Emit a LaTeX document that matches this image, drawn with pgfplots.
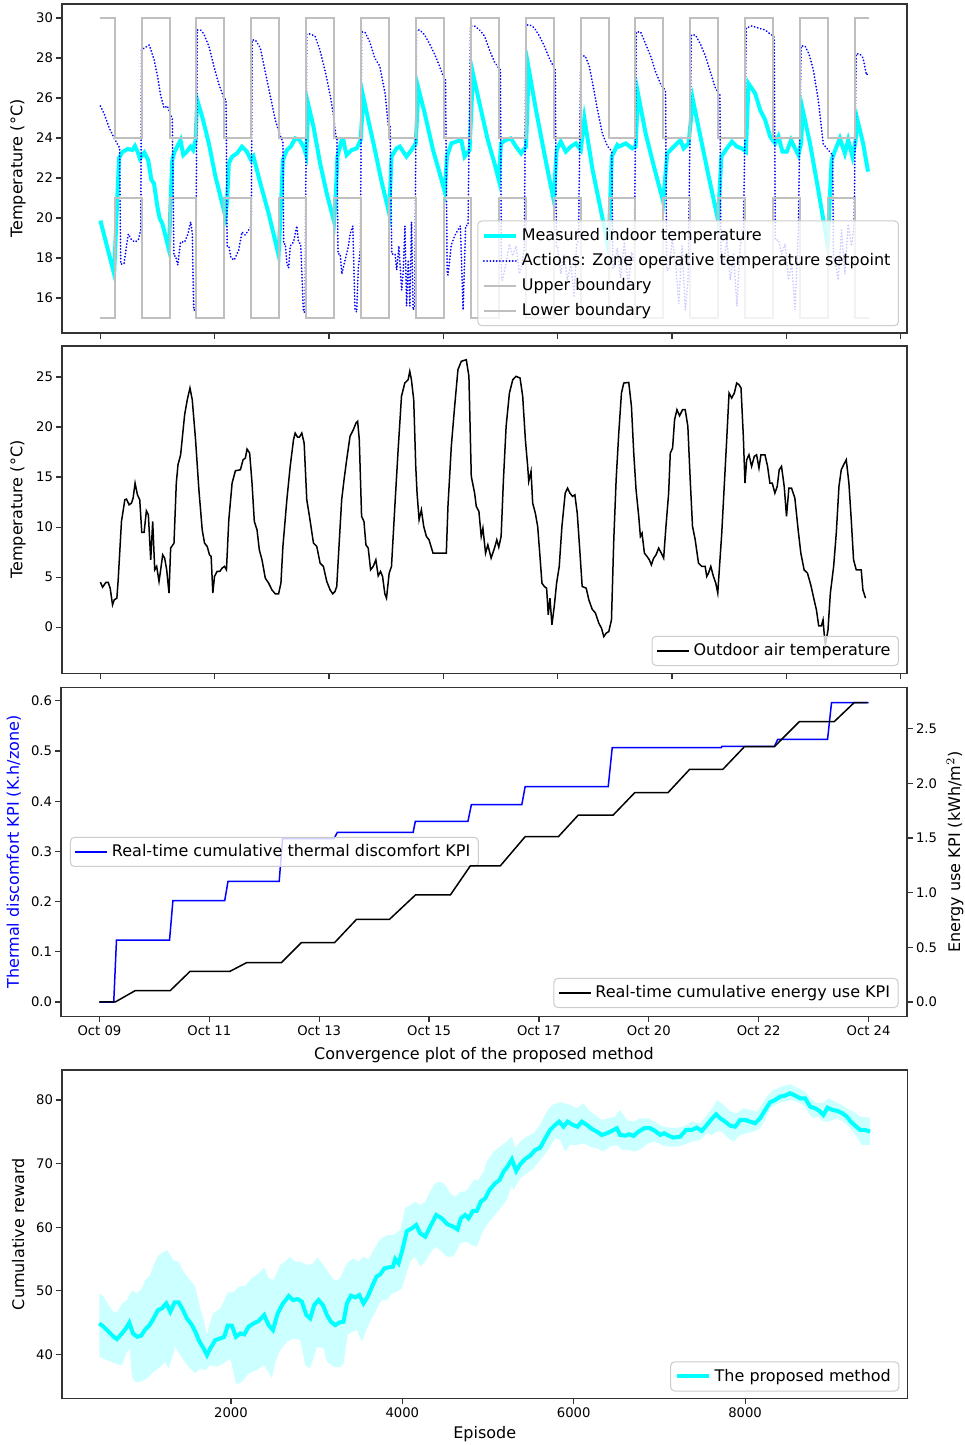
\documentclass[border=0pt]{standalone}
\usepackage{fontspec}
\setmainfont{DejaVu Sans}
\usepackage{pgfplots}
\pgfplotsset{compat=1.18}

\definecolor{aqua}{RGB}{0,255,255}
\definecolor{bandc}{RGB}{204,255,255}
\definecolor{bound}{RGB}{191,191,191}
\definecolor{legedge}{RGB}{204,204,204}

\pgfplotsset{
  base/.style={
    scale only axis,
    anchor=north west,
    axis line style={black!80, line width=0.6pt},
    tick align=outside,
    major tick length=2.8pt,
    every tick/.style={black!80, line width=0.6pt},
    tick label style={font=\fontsize{6.6}{8}\selectfont, inner sep=1.5pt},
    label style={font=\fontsize{8}{9.6}\selectfont},
    /pgf/number format/assume math mode=true,
    /pgf/number format/1000 sep={},
    legend style={draw=legedge, line width=0.5pt, rounded corners=2pt, fill=white,
      fill opacity=0.8, text opacity=1, font=\fontsize{8}{9.6}\selectfont,
      inner xsep=2pt, inner ysep=1.5pt, row sep=1pt},
    legend cell align=left,
    legend image code/.code={\draw[#1] (0pt,0pt) -- (16pt,0pt);},
  },
}

\begin{document}
\begin{tikzpicture}
\path[use as bounding box] (0,0) rectangle (482pt,-722.5pt);

% ---- panel 1: indoor temperature and setpoints
\begin{axis}[base, tick pos=left, at={(31pt,-2pt)}, width=422.5pt, height=164.5pt,
  xmin=-0.7, xmax=14.7, ymin=14.25, ymax=30.7,
  xtick={0,2.0833,4.1667,6.25,8.3333,10.4167,12.5,14.5833}, xticklabels={},
  ytick={16,18,...,30},
  ylabel={Temperature (°C)},
  ylabel style={at={(axis description cs:-0.052,0.5)}, anchor=center},
  legend style={at={(0.9905,0.021)}, anchor=south east}]
\addplot[aqua, line width=2pt] coordinates {
(0,19.87) (0.25,17.2) (0.30,20.5) (0.34,23.0) (0.40,23.3) (0.50,23.45) (0.58,23.4) (0.63,23.6) (0.68,23.3) (0.72,22.97) (0.80,23.27) (0.87,22.9) (0.93,21.9) (0.977,21.73) (1.038,20.57) (1.08,19.98) (1.128,19.73) (1.189,19.07) (1.25,18.4)
(1.28,20.9) (1.31,22.9) (1.35,23.3) (1.40,23.57) (1.46,23.9) (1.51,23.15) (1.57,23.3) (1.644,23.57) (1.69,23.4) (1.734,23.9) (1.764,25.9) (1.855,25.07) (1.976,23.73) (2.097,22.07) (2.188,21.07) (2.279,20.07)
(2.31,20.9) (2.34,22.73) (2.40,23.07) (2.49,23.23) (2.58,23.57) (2.67,23.32) (2.745,22.9) (2.79,23.07) (2.915,21.73) (3.066,20.23) (3.247,18.15)
(3.29,20.57) (3.326,22.9) (3.398,23.4) (3.47,23.57) (3.55,23.98) (3.63,23.9) (3.70,23.57) (3.75,23.15) (3.79,25.65) (3.883,24.57) (4.004,22.73) (4.125,21.23) (4.258,19.82)
(4.29,21.23) (4.32,23.07) (4.397,23.9) (4.428,23.9) (4.458,23.48) (4.488,23.15) (4.579,23.4) (4.67,23.48) (4.743,23.9) (4.79,26.07) (4.882,24.9) (5.003,23.4) (5.124,21.82) (5.263,20.23)
(5.306,23.07) (5.396,23.48) (5.457,23.57) (5.578,23.07) (5.668,23.4) (5.747,23.73) (5.795,26.48) (5.911,25.23) (6.062,23.4) (6.184,22.23) (6.275,21.32)
(6.316,23.07) (6.395,23.73) (6.486,23.82) (6.577,23.9) (6.637,23.07) (6.728,23.4) (6.789,27.23) (6.909,25.73) (7.06,23.9) (7.182,22.73) (7.26,21.9)
(7.30,23.73) (7.39,23.9) (7.481,23.98) (7.575,23.57) (7.666,23.23) (7.757,23.57) (7.805,27.48) (7.938,25.4) (8.09,23.23) (8.26,20.9)
(8.315,23.4) (8.39,23.82) (8.48,23.32) (8.573,23.57) (8.664,23.73) (8.755,23.4) (8.82,24.98) (8.97,22.4) (9.12,20.4) (9.26,18.48)
(9.32,23.07) (9.42,23.65) (9.452,23.57) (9.573,23.73) (9.694,23.48) (9.754,23.57) (9.797,26.23) (9.936,24.23) (10.088,22.57) (10.257,20.82)
(10.33,23.23) (10.42,23.48) (10.51,23.73) (10.57,23.9) (10.63,23.48) (10.72,23.73) (10.796,25.93) (10.935,24.07) (11.086,22.07) (11.256,19.9)
(11.317,23.07) (11.418,23.48) (11.51,23.82) (11.60,23.57) (11.69,23.48) (11.764,23.32) (11.81,26.73) (11.933,26.23) (12.024,25.4) (12.115,24.9) (12.206,24.07) (12.296,23.73) (12.357,24.07) (12.43,23.32) (12.51,23.32) (12.587,23.9) (12.66,23.48) (12.72,23.15) (12.77,23.73) (12.80,25.4) (12.932,23.73) (13.083,21.4) (13.253,18.65)
(13.326,22.9) (13.416,23.57) (13.477,23.98) (13.567,23.23) (13.628,23.9) (13.706,23.07) (13.76,23.82) (13.797,24.9) (13.9,23.73) (13.99,22.32)
};
\addlegendentry{Measured indoor temperature}
\addplot[blue, line width=0.9pt, line cap=round, dash pattern=on 0.1pt off 1.5pt] coordinates {
(0.00,25.6) (0.07,25.2) (0.16,24.5) (0.25,24.0) (0.35,23.5) (0.37,17.7) (0.43,17.7) (0.475,18.6) (0.51,19.2) (0.57,18.9) (0.63,18.8) (0.69,18.9) (0.735,19.4) (0.75,28.4) (0.80,28.5) (0.89,28.65) (0.98,27.9) (1.04,27.1) (1.10,26.1) (1.16,25.5) (1.22,25.6) (1.28,25.15) (1.31,25.0)
(1.34,18.1) (1.37,18.1) (1.41,17.65) (1.46,18.8) (1.535,18.8) (1.595,19.2) (1.645,19.8) (1.675,19.2) (1.70,15.4) (1.735,15.4) (1.765,29.4) (1.825,29.4) (1.885,29.2) (1.976,28.6) (2.067,27.6) (2.158,26.7) (2.25,26.0) (2.29,25.9)
(2.31,18.6) (2.34,18.6) (2.38,18.0) (2.44,17.9) (2.52,18.4) (2.58,19.3) (2.64,19.15) (2.70,19.4) (2.75,19.6) (2.765,28.9) (2.824,28.9) (2.915,28.5) (3.005,27.3) (3.096,26.1) (3.187,24.9) (3.278,24.1) (3.326,23.8)
(3.34,18.7) (3.37,18.7) (3.40,17.7) (3.43,17.5) (3.46,18.6) (3.52,18.8) (3.58,19.6) (3.61,18.8) (3.65,18.7) (3.70,15.3) (3.73,15.3) (3.76,29.2) (3.82,29.2) (3.91,29.1) (4.00,28.4) (4.10,27.3) (4.19,26.1) (4.25,25.1) (4.29,24.1) (4.31,24.0)
(4.33,18.2) (4.37,18.2) (4.40,17.2) (4.46,17.9) (4.52,18.6) (4.55,19.2) (4.60,19.6) (4.64,15.4) (4.67,15.3) (4.70,17.5) (4.74,18.5) (4.76,29.3) (4.82,29.3) (4.91,28.8) (5.00,28.0) (5.09,27.6) (5.19,26.2) (5.245,24.65) (5.28,24.6)
(5.31,18.2) (5.37,18.2) (5.40,17.4) (5.44,18.6) (5.49,16.4) (5.52,17.4) (5.55,19.6) (5.58,15.6) (5.61,17.9) (5.64,15.6) (5.67,19.8) (5.70,15.4) (5.73,15.6) (5.76,29.4) (5.82,29.4) (5.91,29.15) (6.00,28.7) (6.09,28.2) (6.18,27.6) (6.26,27.0) (6.29,26.9)
(6.32,17.2) (6.335,17.15) (6.395,18.65) (6.456,19.1) (6.516,19.4) (6.56,19.6) (6.61,15.4) (6.656,19.6) (6.70,19.65) (6.746,29.6) (6.818,29.6) (6.909,29.4) (7.0,29.1) (7.091,28.4) (7.182,27.8) (7.26,27.5) (7.29,27.4)
(7.31,16.9) (7.33,16.9) (7.39,17.7) (7.454,18.7) (7.515,18.1) (7.575,18.6) (7.636,17.2) (7.684,17.7) (7.726,18.6) (7.757,29.65) (7.83,29.65) (7.91,29.5) (8.0,29.1) (8.09,28.6) (8.18,28.0) (8.27,27.5) (8.29,27.4)
(8.31,18.6) (8.33,18.6) (8.39,17.2) (8.45,18.2) (8.51,16.9) (8.573,17.7) (8.634,16.1) (8.676,18.6) (8.713,18.9) (8.756,28.1) (8.835,28.1) (8.908,27.6) (8.98,26.6) (9.06,25.4) (9.15,24.2) (9.24,23.6) (9.30,23.4) (9.32,23.3)
(9.34,17.5) (9.36,17.5) (9.42,18.5) (9.48,17.0) (9.55,18.8) (9.62,16.5) (9.68,18.3) (9.73,17.8) (9.766,29.3) (9.845,29.3) (9.936,28.7) (10.027,28.1) (10.118,27.3) (10.209,26.7) (10.287,26.4) (10.30,26.3)
(10.32,17.4) (10.36,17.4) (10.42,18.9) (10.48,17.9) (10.54,15.7) (10.60,18.6) (10.66,15.4) (10.71,16.9) (10.77,29.15) (10.844,29.15) (10.935,28.7) (11.026,28.1) (11.117,27.3) (11.208,26.5) (11.269,26.2) (11.29,26.2)
(11.31,17.7) (11.358,17.7) (11.418,18.9) (11.479,16.9) (11.539,18.2) (11.60,15.6) (11.66,18.6) (11.721,19.4) (11.77,29.5) (11.873,29.6) (11.994,29.5) (12.115,29.4) (12.206,29.2) (12.266,29.1) (12.28,29.0)
(12.30,18.9) (12.357,18.9) (12.417,18.2) (12.478,18.7) (12.538,16.9) (12.599,17.7) (12.659,15.4) (12.72,19.4) (12.77,28.6) (12.841,28.6) (12.914,28.2) (12.993,27.4) (13.083,25.9) (13.174,23.7) (13.265,23.4) (13.325,23.2) (13.345,23.2)
(13.36,17.9) (13.386,17.9) (13.446,16.9) (13.507,19.4) (13.567,17.2) (13.628,19.7) (13.688,18.6) (13.736,19.6) (13.773,28.2) (13.839,28.2) (13.90,28.0) (13.96,27.15) (13.98,27.2)
};
\addlegendentry{Actions: Zone operative temperature setpoint}
\addplot[bound, line width=1pt, const plot] coordinates {
(0,30) (0.26,24) (0.75,30) (1.26,24) (1.75,30) (2.26,24) (2.75,30) (3.26,24) (3.75,30) (4.26,24) (4.75,30) (5.26,24) (5.75,30) (6.26,24) (6.75,30) (7.26,24) (7.75,30) (8.26,24) (8.75,30) (9.26,24) (9.75,30) (10.26,24) (10.75,30) (11.26,24) (11.75,30) (12.26,24) (12.75,30) (13.26,24) (13.75,30) (14,30)
};
\addlegendentry{Upper boundary}
\addplot[bound, line width=1pt, const plot] coordinates {
(0,15) (0.26,21) (0.75,15) (1.26,21) (1.75,15) (2.26,21) (2.75,15) (3.26,21) (3.75,15) (4.26,21) (4.75,15) (5.26,21) (5.75,15) (6.26,21) (6.75,15) (7.26,21) (7.75,15) (8.26,21) (8.75,15) (9.26,21) (9.75,15) (10.26,21) (10.75,15) (11.26,21) (11.75,15) (12.26,21) (12.75,15) (13.26,21) (13.75,15) (14,15)
};
\addlegendentry{Lower boundary}
\end{axis}

% ---- panel 2: outdoor air temperature
\begin{axis}[base, tick pos=left, at={(31pt,-173pt)}, width=422.5pt, height=163.6pt,
  xmin=-0.7, xmax=14.7, ymin=-4.6, ymax=28.1,
  xtick={0,2.0833,4.1667,6.25,8.3333,10.4167,12.5,14.5833}, xticklabels={},
  ytick={0,5,...,25},
  ylabel={Temperature (°C)},
  ylabel style={at={(axis description cs:-0.052,0.5)}, anchor=center},
  legend style={at={(0.9905,0.022)}, anchor=south east}]
\addplot[black, line width=0.75pt] coordinates {
(0,4.5) (0.04,4.0) (0.10,4.47) (0.142,4.47) (0.178,3.9) (0.221,2.23) (0.251,2.73) (0.30,2.9) (0.324,4.73) (0.384,10.57) (0.445,12.73) (0.475,12.8) (0.523,12.23) (0.566,12.4) (0.596,12.9) (0.632,14.4) (0.675,13.23) (0.717,12.73) (0.754,9.47) (0.796,9.47) (0.838,11.63) (0.874,11.23) (0.917,6.73) (0.953,10.57) (0.99,5.73) (1.026,6.07) (1.068,4.57) (1.098,5.73) (1.135,7.23) (1.171,6.9) (1.208,5.73) (1.25,3.4) (1.28,7.9) (1.341,8.4) (1.383,14.4) (1.414,16.23) (1.462,17.23) (1.535,21.23) (1.583,22.73) (1.632,23.9) (1.674,22.73) (1.734,18.73) (1.795,13.73) (1.855,9.73) (1.898,8.4) (1.946,8.07) (1.988,7.23) (2.018,7.07) (2.049,3.4) (2.079,5.07) (2.127,5.57) (2.176,5.57) (2.218,5.9) (2.261,6.07) (2.297,5.73) (2.34,10.73) (2.40,14.4) (2.46,15.63) (2.551,15.73) (2.60,16.73) (2.642,16.9) (2.672,17.8) (2.72,17.4) (2.763,14.4) (2.805,10.57) (2.854,9.73) (2.896,7.73) (2.945,6.73) (3.005,4.9) (3.066,4.4) (3.126,3.73) (3.187,3.33) (3.247,3.33) (3.29,4.4) (3.326,8.07) (3.398,12.73) (3.459,16.07) (3.519,18.73) (3.549,19.4) (3.592,19.0) (3.628,19.0) (3.67,19.4) (3.713,18.4) (3.761,12.73) (3.81,11.07) (3.883,8.4) (3.943,8.07) (4.004,6.4) (4.064,6.07) (4.125,4.57) (4.186,3.73) (4.234,3.33) (4.276,3.57) (4.307,4.07) (4.355,8.73) (4.397,12.73) (4.44,14.73) (4.488,16.73) (4.549,19.07) (4.609,19.73) (4.658,20.4) (4.688,20.57) (4.718,18.73) (4.76,11.07) (4.803,10.57) (4.839,8.23) (4.881,7.9) (4.924,5.73) (4.972,6.07) (5.02,6.73) (5.063,5.13) (5.105,5.57) (5.142,5.07) (5.184,3.33) (5.214,2.9) (5.263,5.4) (5.305,6.07) (5.366,12.07) (5.426,17.73) (5.487,23.07) (5.547,24.4) (5.608,24.73) (5.638,25.57) (5.668,24.73) (5.71,22.73) (5.747,16.07) (5.771,13.4) (5.808,10.73) (5.85,11.73) (5.892,10.07) (5.941,9.07) (5.989,8.73) (6.062,7.4) (6.304,7.4) (6.334,12.07) (6.395,18.07) (6.456,22.07) (6.516,25.73) (6.577,26.57) (6.668,26.73) (6.716,25.07) (6.759,15.07) (6.82,13.4) (6.85,12.07) (6.898,11.57) (6.94,9.07) (6.971,9.9) (7.019,7.4) (7.061,8.23) (7.121,6.9) (7.182,7.9) (7.224,8.73) (7.26,8.0) (7.303,9.07) (7.345,14.73) (7.394,20.07) (7.454,23.4) (7.515,24.73) (7.575,25.07) (7.648,24.9) (7.696,23.07) (7.745,18.73) (7.787,16.07) (7.806,14.57) (7.848,15.57) (7.878,12.4) (7.926,11.4) (7.969,10.07) (8.011,7.07) (8.047,4.4) (8.09,4.07) (8.132,3.9) (8.162,1.23) (8.193,2.9) (8.229,0.23) (8.271,2.07) (8.314,4.4) (8.362,6.07) (8.411,10.07) (8.471,13.4) (8.514,13.9) (8.556,13.4) (8.605,13.07) (8.647,13.23) (8.69,11.4) (8.732,8.07) (8.78,4.07) (8.853,3.9) (8.902,2.73) (8.962,1.8) (9.023,1.4) (9.083,0.4) (9.132,-0.1) (9.174,-0.94) (9.217,-0.6) (9.265,-0.44) (9.314,0.73) (9.356,8.73) (9.399,14.73) (9.447,19.4) (9.496,23.4) (9.538,24.4) (9.629,24.46) (9.678,22.07) (9.72,17.4) (9.762,13.73) (9.811,11.07) (9.841,9.07) (9.871,9.4) (9.914,7.4) (9.962,7.07) (10.004,6.73) (10.041,6.23) (10.083,6.9) (10.126,7.23) (10.174,7.9) (10.222,7.4) (10.265,6.9) (10.307,10.07) (10.356,13.4) (10.386,17.4) (10.428,17.9) (10.464,20.73) (10.507,21.73) (10.555,21.13) (10.61,21.73) (10.658,21.73) (10.706,20.07) (10.749,14.73) (10.791,10.07) (10.84,8.73) (10.9,6.4) (10.961,6.07) (11.021,6.07) (11.051,5.07) (11.082,5.4) (11.124,6.07) (11.172,5.07) (11.215,4.4) (11.251,3.4) (11.275,5.4) (11.324,9.4) (11.372,14.4) (11.414,18.73) (11.457,23.4) (11.505,22.9) (11.553,23.4) (11.596,24.4) (11.638,24.23) (11.675,23.9) (11.717,19.07) (11.747,14.4) (11.778,16.73) (11.82,17.23) (11.868,16.07) (11.917,17.07) (11.959,17.23) (12.002,15.9) (12.038,17.23) (12.111,17.23) (12.159,16.07) (12.201,14.4) (12.244,14.4) (12.292,13.4) (12.335,14.07) (12.371,15.73) (12.413,16.07) (12.462,14.07) (12.504,11.07) (12.547,13.9) (12.595,13.9) (12.656,12.9) (12.716,9.73) (12.765,7.4) (12.825,5.73) (12.886,5.4) (12.946,4.23) (13.007,2.73) (13.049,1.73) (13.091,0.13) (13.14,0.13) (13.17,0.73) (13.2,-1.27) (13.212,-1.77) (13.26,-0.27) (13.303,3.4) (13.363,6.07) (13.411,9.4) (13.46,14.07) (13.502,15.73) (13.545,16.23) (13.593,16.73) (13.641,14.4) (13.684,10.73) (13.726,6.73) (13.775,5.73) (13.866,5.73) (13.896,3.73) (13.944,2.9)
};
\addlegendentry{Outdoor air temperature}
\end{axis}

% ---- panel 3: KPIs, left axis
\begin{axis}[base, tick pos=left, at={(30.5pt,-343.6pt)}, width=423pt, height=164.7pt,
  xmin=-0.7, xmax=14.7, ymin=-0.029, ymax=0.627,
  xtick={0,2,...,14},
  xticklabels={Oct 09,Oct 11,Oct 13,Oct 15,Oct 17,Oct 20,Oct 22,Oct 24},
  ytick={0,0.1,...,0.6},
  yticklabel style={/pgf/number format/.cd, fixed, fixed zerofill, precision=1},
  xlabel={Convergence plot of the proposed method},
  xlabel style={at={(axis description cs:0.5,-0.1155)}, anchor=center},
  ylabel={Thermal discomfort KPI (K.h/zone)},
  ylabel style={at={(axis description cs:-0.0556,0.5)}, anchor=center, blue},
  legend style={at={(0.0106,0.5)}, anchor=west}]
\addplot[blue, line width=0.75pt] coordinates {
(0,0) (0.26,0) (0.31,0.1235) (1.276,0.1235) (1.337,0.2019) (2.28,0.2019) (2.34,0.2404) (3.272,0.2404) (3.333,0.3254) (4.27,0.3254) (4.33,0.338) (5.71,0.338) (5.75,0.36) (6.708,0.36) (6.77,0.393) (7.688,0.393) (7.749,0.4289) (9.261,0.4289) (9.334,0.5066) (11.318,0.5066) (11.33,0.509) (12.286,0.509) (12.347,0.5232) (13.254,0.5232) (13.326,0.5963) (14,0.5963)
};
\addlegendentry{Real-time cumulative thermal discomfort KPI}
\end{axis}

% ---- panel 3: KPIs, right axis
\begin{axis}[base, at={(30.5pt,-343.6pt)}, width=423pt, height=164.7pt,
  hide x axis, axis y line*=right,
  xmin=-0.7, xmax=14.7, ymin=-0.134, ymax=2.879,
  ytick={0,0.5,...,2.5},
  yticklabel style={/pgf/number format/.cd, fixed, fixed zerofill, precision=1},
  ylabel={Energy use KPI (kWh/m$^2$)},
  ylabel style={at={(axis description cs:1.0567,0.5)}, anchor=center},
  legend style={at={(0.99,0.026)}, anchor=south east}]
\addplot[black, line width=0.75pt] coordinates {
(0,0) (0.288,0) (0.651,0.1036) (1.288,0.1036) (1.651,0.2805) (2.377,0.2805) (2.68,0.36) (3.313,0.36) (3.675,0.5427) (4.28,0.5427) (4.68,0.756) (5.28,0.756) (5.753,0.979) (6.388,0.979) (6.75,1.244) (7.295,1.244) (7.749,1.512) (8.354,1.512) (8.717,1.71) (9.352,1.71) (9.745,1.915) (10.35,1.915) (10.744,2.128) (11.348,2.128) (11.741,2.335) (12.286,2.335) (12.74,2.564) (13.375,2.564) (13.738,2.738) (13.98,2.738)
};
\addlegendentry{Real-time cumulative energy use KPI}
\end{axis}

% ---- panel 4: cumulative reward
\begin{axis}[base, tick pos=left, at={(31pt,-535pt)}, width=422.7pt, height=164.2pt,
  xmin=28, xmax=9894, ymin=33.1, ymax=84.7,
  xtick={2000,4000,6000,8000}, ytick={40,50,...,80},
  xlabel={Episode},
  xlabel style={at={(axis description cs:0.5,-0.11)}, anchor=center},
  ylabel={Cumulative reward},
  ylabel style={at={(axis description cs:-0.052,0.5)}, anchor=center},
  legend style={at={(0.9905,0.021)}, anchor=south east}]
% band: upper edge left to right, then lower edge right to left
\addplot[fill=bandc, draw=none, forget plot] coordinates {
(463,49.6) (514,49.1) (572,47.8) (630,46.7) (669,46.6) (728,48.0) (786,48.55) (844,50.1) (903,49.6) (961,50.4) (1000,51.7) (1058,52.5) (1097,54.1) (1155,55.6) (1253,56.4) (1330,54.8) (1389,54.6) (1447,53.0) (1505,52.0) (1583,50.65) (1642,47.2) (1688,45.15) (1719,43.05) (1758,45.15) (1797,46.5) (1875,47.2) (1933,48.8) (1960,49.76) (2030,49.76) (2089,50.65) (2167,50.8) (2244,52.0) (2322,52.75) (2388,53.7) (2439,52.0) (2497,51.7) (2575,54.06) (2633,54.6) (2684,55.37) (2750,54.6) (2808,54.6) (2886,54.06) (2956,54.3) (3011,55.26) (3080,54.06) (3158,52.5) (3217,51.54) (3275,52.0) (3333,53.8) (3372,54.6) (3430,55.1) (3489,54.6) (3547,55.37) (3606,54.84) (3664,56.41) (3722,57.73) (3780,58.5) (3839,58.77) (3897,58.77) (3975,59.56) (4033,62.97) (4092,63.5) (4150,64.01) (4208,63.5) (4267,64.01) (4325,65.69) (4383,66.9) (4442,67.16) (4500,66.64) (4558,65.32) (4617,64.8) (4675,65.6) (4733,65.6) (4772,66.1) (4830,67.42) (4889,67.42) (4947,68.73) (4986,70.3) (5064,71.88) (5142,72.66) (5219,73.45) (5278,74.24) (5317,72.4) (5375,73.45) (5453,74.24) (5531,74.76) (5608,76.07) (5686,78.17) (5745,79.21) (5842,79.63) (5939,79.32) (6036,78.69) (6114,79.48) (6172,78.43) (6250,77.64) (6328,76.85) (6406,77.12) (6483,77.38) (6542,78.43) (6620,76.85) (6697,76.59) (6775,77.12) (6872,77.12) (6970,76.33) (7047,75.8) (7164,75.55) (7281,75.8) (7378,76.59) (7475,76.33) (7553,77.64) (7631,78.95) (7677,80.0) (7747,79.21) (7825,78.17) (7903,77.9) (7981,78.69) (8058,78.43) (8136,78.17) (8195,79.21) (8253,80.52) (8331,81.57) (8428,82.1) (8525,82.46) (8622,81.83) (8700,81.31) (8758,80.26) (8836,79.48) (8914,79.48) (8972,80.26) (9050,79.74) (9128,79.21) (9186,78.69) (9264,78.17) (9342,77.38) (9459,77.22)
(9459,72.92) (9361,72.92) (9303,74.24) (9225,75.55) (9147,76.59) (9069,77.12) (8972,76.59) (8914,76.59) (8856,77.38) (8797,77.12) (8758,77.64) (8681,79.21) (8603,79.74) (8525,80.0) (8428,79.63) (8350,79.21) (8292,78.69) (8234,76.85) (8175,75.55) (8097,75.02) (8020,74.76) (7942,74.5) (7864,73.45) (7806,73.97) (7728,75.02) (7670,75.02) (7611,74.5) (7553,74.76) (7475,73.71) (7378,73.45) (7281,72.92) (7203,72.66) (7106,72.66) (7028,72.92) (6950,73.45) (6872,73.19) (6795,72.4) (6717,71.88) (6639,72.14) (6561,72.14) (6503,72.92) (6425,72.66) (6347,71.88) (6270,72.4) (6192,72.66) (6114,73.19) (6036,72.92) (5958,72.92) (5900,71.88) (5842,73.71) (5783,73.97) (5686,71.88) (5608,70.57) (5531,69.26) (5453,68.47) (5375,67.68) (5297,65.85) (5278,66.64) (5219,64.28) (5142,62.97) (5064,61.66) (4986,60.35) (4928,59.04) (4869,56.94) (4811,57.2) (4733,57.73) (4675,57.46) (4597,55.37) (4519,55.37) (4442,56.41) (4383,56.94) (4325,55.89) (4267,54.58) (4208,53.79) (4150,55.37) (4092,54.58) (4053,53.01) (3994,50.39) (3936,49.86) (3878,49.6) (3819,48.55) (3761,48.55) (3703,47.24) (3644,45.67) (3586,44.1) (3528,42.0) (3469,43.84) (3411,43.57) (3361,43.05) (3314,38.6) (3275,38.07) (3197,38.07) (3120,38.86) (3081,40.95) (3003,41.21) (2964,39.38) (2917,37.81) (2867,38.33) (2808,42.26) (2730,42.53) (2653,42.0) (2575,40.69) (2517,38.86) (2478,36.24) (2439,37.29) (2381,38.33) (2303,37.55) (2205,37.02) (2128,35.71) (2062,35.29) (2030,37.29) (1992,39.38) (1914,38.6) (1836,38.07) (1758,38.33) (1700,37.55) (1642,37.81) (1583,37.02) (1486,38.33) (1408,39.9) (1350,41.21) (1311,39.38) (1272,37.81) (1233,38.86) (1175,38.07) (1097,37.29) (1019,36.24) (942,35.71) (883,35.71) (844,36.5) (817,40.95) (786,40.43) (728,38.33) (650,38.6) (553,39.12) (463,39.64)
} -- cycle;
\addplot[aqua, line width=2pt] coordinates {
(463,44.88) (514,44.36) (572,43.57) (630,42.79) (669,42.42) (728,43.31) (774,44.1) (813,44.99) (856,43.31) (903,42.79) (950,42.94) (1000,43.94) (1050,44.62) (1097,45.67) (1148,46.98) (1194,47.24) (1245,48.03) (1292,46.72) (1342,48.19) (1389,48.19) (1440,46.98) (1486,45.67) (1545,44.62) (1584,43.57) (1634,42.0) (1681,40.95) (1720,39.9) (1758,40.95) (1817,42.26) (1875,42.53) (1922,42.79) (1961,44.52) (2011,44.52) (2058,42.79) (2109,43.31) (2155,43.15) (2205,44.36) (2264,44.88) (2322,45.25) (2388,46.2) (2439,44.62) (2490,43.84) (2545,46.46) (2607,48.03) (2674,49.18) (2724,48.55) (2778,48.71) (2828,48.29) (2879,46.2) (2925,45.67) (2972,47.77) (3022,48.55) (3073,47.77) (3120,46.2) (3166,45.15) (3217,44.62) (3267,45.04) (3314,45.15) (3353,48.03) (3400,49.24) (3450,48.97) (3497,49.34) (3547,48.03) (3595,49.08) (3646,50.65) (3697,52.22) (3742,52.59) (3789,53.53) (3840,53.69) (3890,53.79) (3917,55.0) (3956,54.32) (3995,56.15) (4053,59.4) (4111,59.82) (4162,60.35) (4208,59.04) (4267,58.51) (4325,60.08) (4395,61.92) (4461,61.39) (4527,60.45) (4597,60.08) (4644,59.66) (4683,61.39) (4733,61.92) (4772,61.39) (4823,62.55) (4869,62.55) (4916,64.01) (4967,64.54) (5017,65.85) (5083,66.9) (5134,67.42) (5181,68.73) (5227,69.52) (5278,70.67) (5329,68.84) (5375,69.89) (5433,70.72) (5492,71.25) (5550,72.14) (5609,72.5) (5667,73.97) (5725,75.28) (5784,76.07) (5831,76.59) (5881,75.8) (5927,76.59) (5990,76.07) (6044,75.8) (6095,76.59) (6153,76.07) (6212,75.44) (6270,75.02) (6328,74.5) (6386,74.76) (6445,75.13) (6503,75.55) (6542,74.5) (6600,74.39) (6651,74.6) (6697,74.34) (6756,75.02) (6822,75.55) (6892,75.55) (6950,75.13) (7009,74.5) (7055,74.76) (7106,74.39) (7164,74.08) (7242,74.23) (7312,75.28) (7378,75.28) (7436,75.65) (7495,75.13) (7553,76.07) (7611,77.01) (7662,77.75) (7709,77.12) (7767,76.59) (7825,75.96) (7884,75.8) (7942,76.85) (8000,76.85) (8059,76.59) (8117,76.33) (8175,77.12) (8234,78.43) (8292,79.63) (8351,80.0) (8409,80.52) (8467,80.68) (8526,81.05) (8584,80.68) (8642,80.26) (8700,80.26) (8759,78.95) (8817,78.69) (8868,78.27) (8914,77.64) (8961,78.79) (9019,78.43) (9078,78.27) (9136,77.9) (9187,77.38) (9233,76.59) (9284,75.96) (9342,75.28) (9401,75.28) (9459,75.02)
};
\addlegendentry{The proposed method}
\end{axis}
\end{tikzpicture}
\end{document}
